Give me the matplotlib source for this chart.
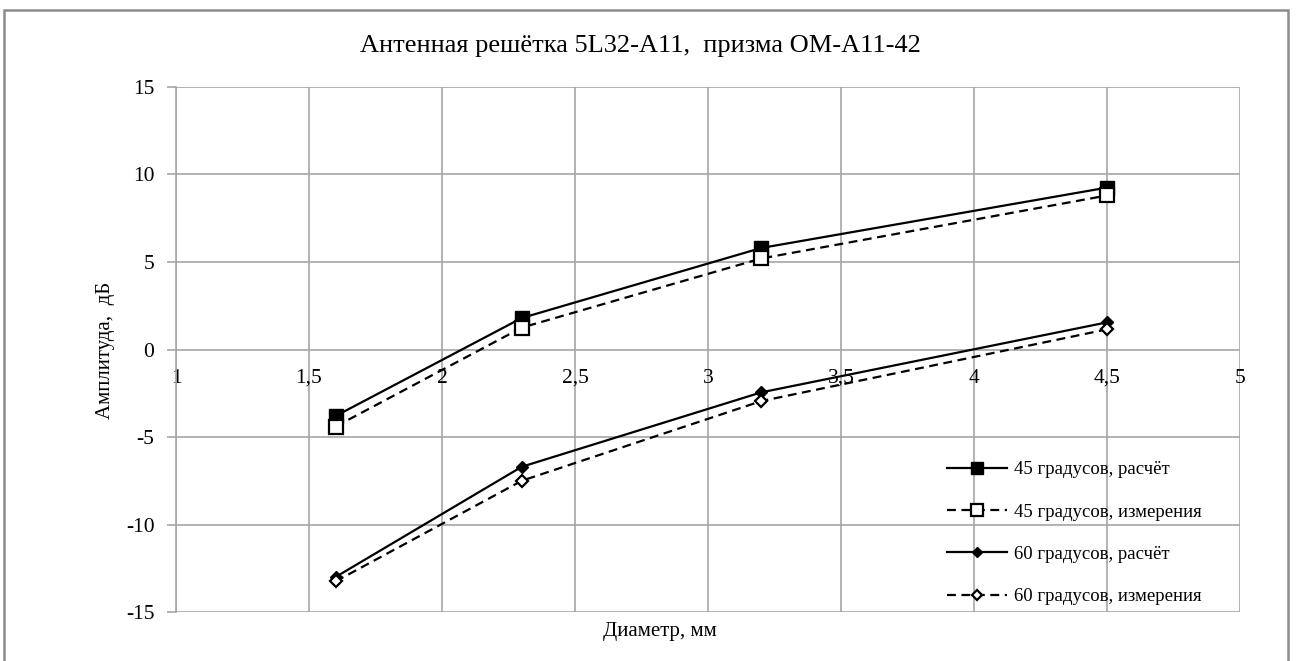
import matplotlib
matplotlib.use("Agg")
import matplotlib.pyplot as plt
from matplotlib.patches import Rectangle

plt.rcParams['font.family'] = ['Liberation Serif', 'DejaVu Serif']
plt.rcParams['axes.unicode_minus'] = False

diam = [1.6, 2.3, 3.2, 4.5]
s45_calc = [-3.8, 1.8, 5.8, 9.25]
s45_meas = [-4.4, 1.25, 5.2, 8.8]
s60_calc = [-13.0, -6.7, -2.45, 1.55]
s60_meas = [-13.25, -7.5, -2.95, 1.15]
labels = ["45 градусов, расчёт", "45 градусов, измерения",
          "60 градусов, расчёт", "60 градусов, измерения"]
xticks = [1, 1.5, 2, 2.5, 3, 3.5, 4, 4.5, 5]
xticklabels = ["1", "1,5", "2", "2,5", "3", "3,5", "4", "4,5", "5"]
yticks = [-15, -10, -5, 0, 5, 10, 15]
title = "Антенная решётка 5L32-A11,  призма OM-A11-42"
xlabel = "Диаметр, мм"
ylabel = "Амплитуда,  дБ"

fig = plt.figure(figsize=(12.97, 6.61), dpi=100)
fig.patches.append(Rectangle((4 / 1297, -0.05), 1284 / 1297, 1.05 - 10 / 661,
                             transform=fig.transFigure,
                             fill=False, edgecolor='#8c8c8c', linewidth=1.8))
ax = fig.add_axes([0.1357, 0.0741, 0.8203, 0.7943])

dash = (0, (4, 2.5))
ax.plot(diam, s45_calc, color='black', lw=1.6, marker='s', ms=9.5, mfc='black', mec='black', label=labels[0], zorder=3)
ax.plot(diam, s45_meas, color='black', lw=1.6, ls=dash, marker='s', ms=9.5, mfc='white', mec='black', mew=1.6, label=labels[1], zorder=3)
ax.plot(diam, s60_calc, color='black', lw=1.6, marker='D', ms=6.5, mfc='black', mec='black', label=labels[2], zorder=3)
ax.plot(diam, s60_meas, color='black', lw=1.6, ls=dash, marker='D', ms=6.5, mfc='white', mec='black', mew=1.6, label=labels[3], zorder=3)

ax.set_xlim(1, 5)
ax.set_ylim(-15, 15)
ax.set_xticks(xticks)
ax.set_xticklabels(xticklabels)
ax.set_yticks(yticks)
ax.grid(True, color='#a6a6a6', lw=1.2)
ax.set_axisbelow(True)

for s in ['top', 'right']:
    ax.spines[s].set_visible(False)
ax.spines['left'].set_color('#a6a6a6')
ax.spines['left'].set_linewidth(1.2)
ax.spines['bottom'].set_position(('data', 0))
ax.spines['bottom'].set_visible(False)

ax.tick_params(axis='x', length=0, pad=14, labelsize=15.5)
ax.tick_params(axis='y', length=6.5, width=1.2, color='#a6a6a6', pad=9, labelsize=15.5)

fig.text(0.4935, 0.930, title, ha='center', va='center', fontsize=19)
fig.text(0.509, 0.044, xlabel, ha='center', va='center', fontsize=15)
fig.text(0.081, 0.47, ylabel, ha='center', va='center', rotation=90, fontsize=15)

leg = ax.legend(loc='upper left', bbox_to_anchor=(0.718, 0.302), frameon=False, fontsize=13.5,
                handlelength=3.2, labelspacing=1.35, handletextpad=0.37, borderaxespad=0,
                markerscale=0.85)

fig.savefig("out.png", dpi=100)
